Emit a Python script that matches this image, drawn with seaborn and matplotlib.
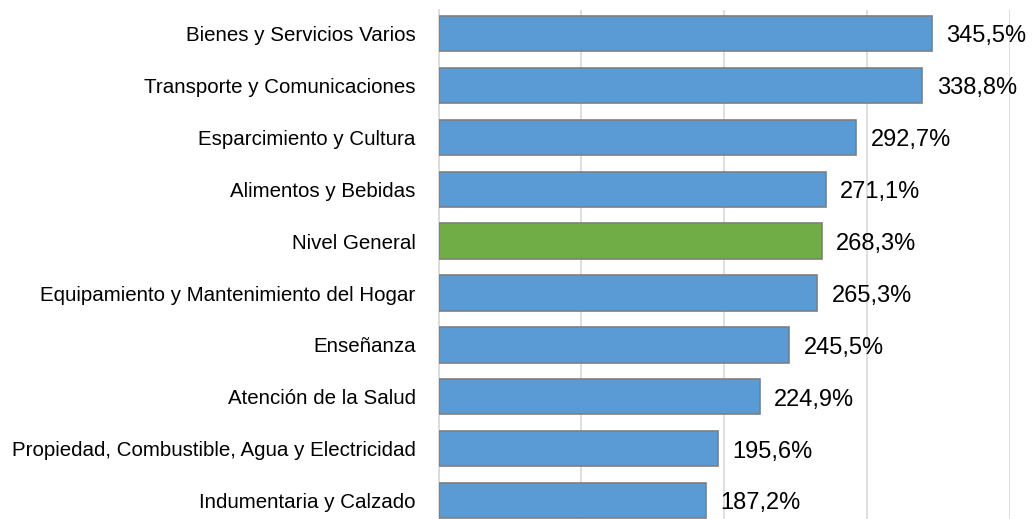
import pandas as pd
import matplotlib
matplotlib.use("Agg")
import matplotlib.pyplot as plt
import seaborn as sns

# data
categories = [
    "Bienes y Servicios Varios",
    "Transporte y Comunicaciones",
    "Esparcimiento y Cultura",
    "Alimentos y Bebidas",
    "Nivel General",
    "Equipamiento y Mantenimiento del Hogar",
    "Enseñanza",
    "Atención de la Salud",
    "Propiedad, Combustible, Agua y Electricidad",
    "Indumentaria y Calzado",
]
values = [345.5, 338.8, 292.7, 271.1, 268.3, 265.3, 245.5, 224.9, 195.6, 187.2]

blue = "#5B9BD5"
green = "#70AD47"
colors = {c: (green if c == "Nivel General" else blue) for c in categories}

df = pd.DataFrame({"categoria": categories, "variacion": values})

sns.set_style("white")
plt.rcParams["font.family"] = ["Liberation Sans", "DejaVu Sans"]

fig = plt.figure(figsize=(10.33, 5.19), dpi=100)
ax = fig.add_axes([438.5 / 1033, 0.0, (1009.6 - 438.5) / 1033, 1 - 10 / 519])

sns.barplot(data=df, x="variacion", y="categoria", hue="categoria",
            palette=colors, legend=False, width=0.68, saturation=1,
            edgecolor="#7F7F7F", linewidth=1.2, ax=ax, zorder=3)

ax.set_xlim(0, 400)
ax.set_ylim(9.354, -0.453)
ax.set_xticks([0, 100, 200, 300, 400])
ax.xaxis.grid(True, color="#D9D9D9", linewidth=1.2, zorder=0)
ax.tick_params(axis="x", bottom=False, labelbottom=False)
ax.tick_params(axis="y", left=False, labelsize=14.8, pad=13, labelcolor="black")
ax.set_xlabel("")
ax.set_ylabel("")
for side in ["top", "right", "bottom"]:
    ax.spines[side].set_visible(False)
ax.spines["left"].set_color("#D9D9D9")
ax.spines["left"].set_linewidth(1.2)

for i, v in enumerate(values):
    ax.annotate(f"{v:.1f}%".replace(".", ","), xy=(v, i), xytext=(10.5, -2),
                textcoords="offset points", va="center", ha="left",
                fontsize=17, color="black")

fig.savefig("out.png", dpi=100)
